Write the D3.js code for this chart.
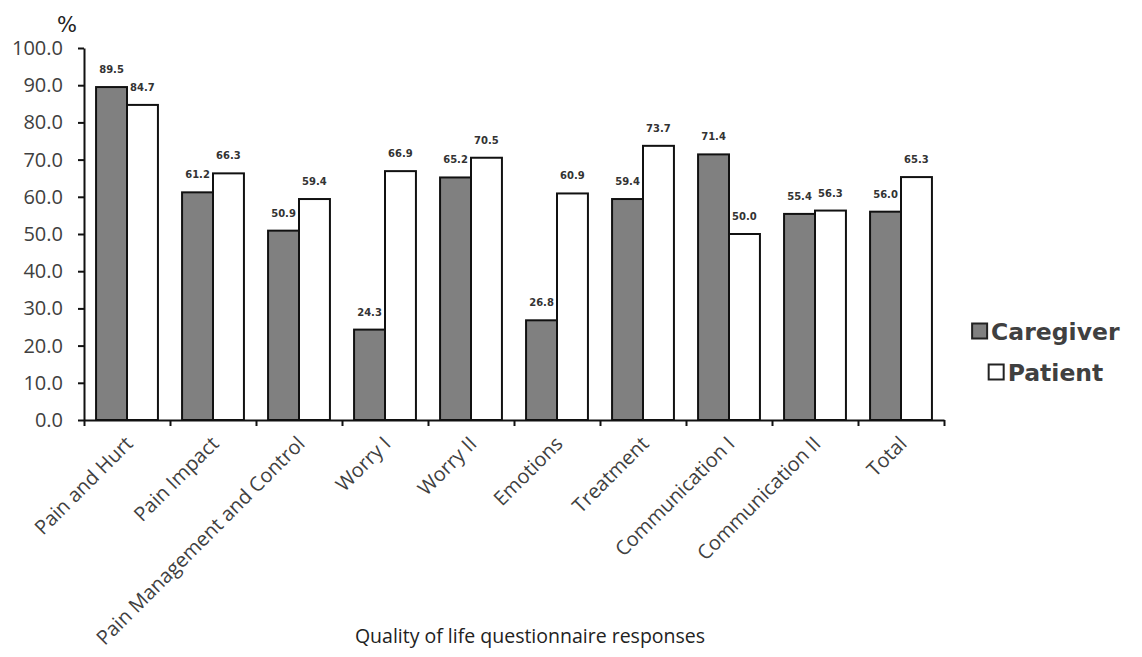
<!DOCTYPE html>
<html>
<head>
<meta charset="utf-8">
<script src="https://cdn.jsdelivr.net/npm/d3@7/dist/d3.min.js"></script>
<style>
  html, body { margin: 0; padding: 0; background: #ffffff; }
  svg { display: block; }
</style>
</head>
<body>
<svg id="chart" width="1142" height="657"></svg>
<script>
const categories = ["Pain and Hurt", "Pain Impact", "Pain Management and Control", "Worry I", "Worry II", "Emotions", "Treatment", "Communication I", "Communication II", "Total"];
const seriesNames = ["Caregiver", "Patient"];
const caregiverValues = [89.5, 61.2, 50.9, 24.3, 65.2, 26.8, 59.4, 71.4, 55.4, 56.0];
const patientValues = [84.7, 66.3, 59.4, 66.9, 70.5, 60.9, 73.7, 50.0, 56.3, 65.3];
const yTickValues = [0, 10, 20, 30, 40, 50, 60, 70, 80, 90, 100];
const yUnitLabel = "%";
const xTitle = "Quality of life questionnaire responses";

const seriesColors = { "Caregiver": "#808080", "Patient": "#ffffff" };

const svg = d3.select("#chart");
const plot = { left: 84, right: 944, top: 48, bottom: 420 };

const x0 = d3.scaleBand().domain(categories).range([plot.left, plot.right]).padding(0);
const x1 = d3.scaleBand().domain(seriesNames).range([0, x0.bandwidth()]).paddingInner(0).paddingOuter(0.39);
const xb = d3.scaleLinear().domain([0, categories.length]).range([plot.left, plot.right]);
const y = d3.scaleLinear().domain([0, 100]).range([plot.bottom, plot.top]);

const rows = categories.map((c, i) => ({
  category: c,
  values: [
    { series: "Caregiver", value: caregiverValues[i] },
    { series: "Patient", value: patientValues[i] }
  ]
}));

// bars
const groups = svg.append("g").selectAll("g").data(rows).join("g")
  .attr("transform", d => `translate(${x0(d.category)},0)`);

groups.selectAll("rect").data(d => d.values).join("rect")
  .attr("x", d => x1(d.series))
  .attr("y", d => y(d.value))
  .attr("width", x1.bandwidth())
  .attr("height", d => y(0) - y(d.value))
  .attr("fill", d => seriesColors[d.series])
  .attr("stroke", "#111")
  .attr("stroke-width", 2);

groups.selectAll("text").data(d => d.values).join("text")
  .attr("x", d => x1(d.series) + x1.bandwidth() / 2)
  .attr("y", d => y(d.value) - 14)
  .attr("text-anchor", "middle")
  .attr("font-family", "DejaVu Sans, Verdana, sans-serif")
  .attr("font-weight", "bold")
  .attr("font-size", 10)
  .attr("fill", "#333")
  .text(d => d3.format(".1f")(d.value));

// y axis
const yAxis = svg.append("g")
  .attr("transform", `translate(${plot.left},0)`)
  .call(d3.axisLeft(y).tickValues(yTickValues).tickFormat(d3.format(".1f")).tickSize(6).tickSizeOuter(0).tickPadding(15));
yAxis.select(".domain").attr("stroke", "#111").attr("stroke-width", 2);
yAxis.selectAll(".tick line").attr("stroke", "#111").attr("stroke-width", 2);
yAxis.selectAll(".tick text")
  .attr("font-family", "Open Sans, sans-serif")
  .attr("font-size", 20)
  .attr("fill", "#404040");

// x axis
const xAxis = svg.append("g")
  .attr("transform", `translate(0,${plot.bottom})`)
  .call(d3.axisBottom(xb).ticks(categories.length).tickFormat("").tickSize(6).tickSizeOuter(0));
xAxis.select(".domain").attr("stroke", "#111").attr("stroke-width", 2);
xAxis.selectAll(".tick line").attr("stroke", "#111").attr("stroke-width", 2);

// category labels
svg.append("g").selectAll("text").data(categories).join("text")
  .attr("transform", d => `translate(${x0(d) + x0.bandwidth() / 2 + 7},${plot.bottom + 25}) rotate(-45)`)
  .attr("text-anchor", "end")
  .attr("font-family", "Open Sans, sans-serif")
  .attr("font-size", 20)
  .attr("fill", "#404040")
  .text(d => d);

// unit label
svg.append("text")
  .attr("x", 57).attr("y", 32)
  .attr("font-family", "DejaVu Sans, sans-serif")
  .attr("font-size", 21)
  .attr("fill", "#222")
  .text(yUnitLabel);

// x title
svg.append("text")
  .attr("x", 530).attr("y", 643)
  .attr("text-anchor", "middle")
  .attr("font-family", "Open Sans, sans-serif")
  .attr("font-size", 19.5)
  .attr("fill", "#222")
  .text(xTitle);

// legend (entries centred on a common axis)
const legendCenterX = 1046;
const legend = svg.append("g").selectAll("g").data(seriesNames).join("g");
legend.append("rect")
  .attr("x", 0).attr("y", -7.5).attr("width", 15).attr("height", 15)
  .attr("fill", d => seriesColors[d])
  .attr("stroke", "#222").attr("stroke-width", 2);
legend.append("text")
  .attr("x", 19).attr("y", 8.5)
  .attr("font-family", "DejaVu Sans, Verdana, sans-serif")
  .attr("font-weight", "bold")
  .attr("font-size", 23.5)
  .attr("fill", "#404040")
  .text(d => d);
legend.attr("transform", function (d, i) {
  const w = this.getBBox().width;
  return `translate(${legendCenterX - w / 2},${331 + i * 41})`;
});
</script>
</body>
</html>
